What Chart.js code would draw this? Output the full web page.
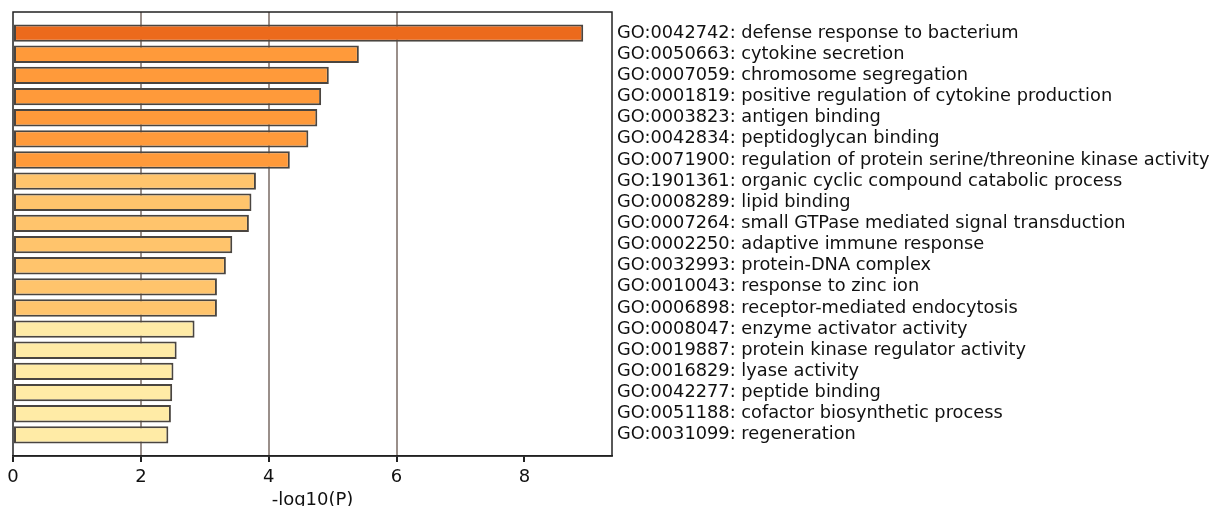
<!DOCTYPE html>
<html>
<head>
<meta charset="utf-8">
<script src="https://cdn.jsdelivr.net/npm/chart.js@4/dist/chart.umd.min.js"></script>
<style>
	html, body { margin: 0; padding: 0; background: #fff; }
	#wrap { width: 1216px; height: 506px; }
</style>
</head>
<body>
<div id="wrap"><canvas id="goBar"></canvas></div>
<script>
const terms = [
	'GO:0042742: defense response to bacterium',
	'GO:0050663: cytokine secretion',
	'GO:0007059: chromosome segregation',
	'GO:0001819: positive regulation of cytokine production',
	'GO:0003823: antigen binding',
	'GO:0042834: peptidoglycan binding',
	'GO:0071900: regulation of protein serine/threonine kinase activity',
	'GO:1901361: organic cyclic compound catabolic process',
	'GO:0008289: lipid binding',
	'GO:0007264: small GTPase mediated signal transduction',
	'GO:0002250: adaptive immune response',
	'GO:0032993: protein-DNA complex',
	'GO:0010043: response to zinc ion',
	'GO:0006898: receptor-mediated endocytosis',
	'GO:0008047: enzyme activator activity',
	'GO:0019887: protein kinase regulator activity',
	'GO:0016829: lyase activity',
	'GO:0042277: peptide binding',
	'GO:0051188: cofactor biosynthetic process',
	'GO:0031099: regeneration',
];
const logP = [8.92, 5.41, 4.94, 4.82, 4.76, 4.62, 4.33, 3.80, 3.73, 3.69, 3.43, 3.33, 3.19, 3.19, 2.84, 2.56, 2.51, 2.49, 2.47, 2.43];
// colour group per term (0 = most significant)
const group = [0, 1, 1, 1, 1, 1, 1, 2, 2, 2, 2, 2, 2, 2, 3, 3, 3, 3, 3, 3];
const groupColors = ['#ec6a1c', '#ff9a3a', '#ffc46c', '#ffeba6'];
const xTicks = [0, 2, 4, 6, 8];
const xMax = 9.37;

// empty slot above and below, like the original plot
const labels = [''].concat(terms, ['']);
const values = [null].concat(logP, [null]);
const colors = ['#fff'].concat(group.map(g => groupColors[g]), ['#fff']);

const frame = {
	id: 'frame',
	afterDraw(chart) {
		const { ctx, chartArea: a } = chart;
		ctx.save();
		ctx.strokeStyle = '#222';
		ctx.lineWidth = 1.5;
		ctx.strokeRect(a.left, a.top, a.right - a.left, a.bottom - a.top);
		ctx.restore();
	}
};

Chart.defaults.font.family = 'DejaVu Sans';
Chart.defaults.color = '#111';

new Chart(document.getElementById('goBar').getContext('2d'), {
	type: 'bar',
	data: {
		labels: labels,
		datasets: [{
			data: values,
			backgroundColor: colors,
			borderColor: '#4a4540',
			borderWidth: 2,
			borderSkipped: false,
			barPercentage: 0.82,
			categoryPercentage: 1.0,
		}],
	},
	options: {
		indexAxis: 'y',
		responsive: true,
		maintainAspectRatio: false,
		animation: false,
		layout: { padding: { left: 13, top: 12, right: 0, bottom: 0 } },
		plugins: { legend: { display: false }, tooltip: { enabled: false } },
		scales: {
			x: {
				type: 'linear',
				min: 0,
				max: xMax,
				afterBuildTicks: scale => { scale.ticks = xTicks.map(v => ({ value: v })); },
				ticks: { font: { size: 18 }, padding: 5, color: '#111' },
				grid: {
					color: c => (c.tick && (c.tick.value === 2 || c.tick.value === 4 || c.tick.value === 6)) ? '#9a8f8a' : 'rgba(0,0,0,0)',
					lineWidth: 2,
					tickColor: '#222',
					tickLength: 6,
				},
				border: { color: '#222', width: 1.5 },
				title: { display: true, text: '-log10(P)', font: { size: 18 }, padding: { top: 5, bottom: -5 }, color: '#111' },
				afterFit: scale => { scale.height = 50; },
			},
			y: {
				position: 'right',
				offset: false,
				grid: { display: false, drawTicks: false, tickLength: 0 },
				border: { display: false },
				ticks: { font: { size: 17.8 }, padding: 5, autoSkip: false, color: '#111' },
				afterFit: scale => {
					scale.width = 604;
					scale.paddingTop = 0;
					scale.paddingBottom = 0;
				},
			},
		},
	},
	plugins: [frame],
});
</script>
</body>
</html>
